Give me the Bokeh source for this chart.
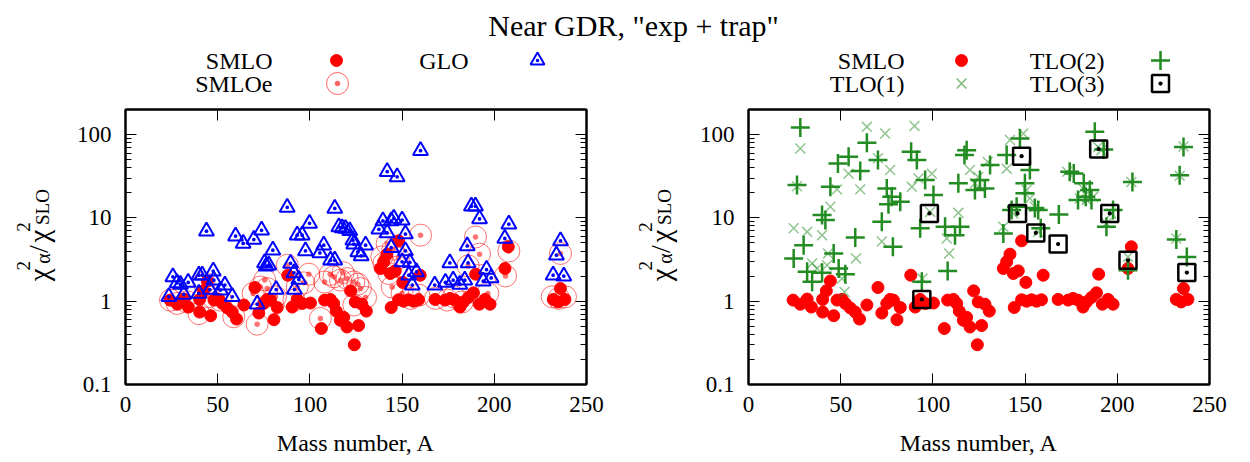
import math
from bokeh.plotting import figure
from bokeh.layouts import column, row
from bokeh.models import Range1d, FixedTicker, LinearAxis, LogAxis, CustomJSTickFormatter
from bokeh.core.properties import value
from bokeh.embed import file_html
from bokeh.resources import INLINE

TITLE = 'Near GDR, "exp + trap"'
X_LABEL = "Mass number, A"
X_TICKS = [0, 50, 100, 150, 200, 250]
Y_TICKS = [0.1, 1, 10, 100]
Y_MINOR = [0.2, 0.3, 0.4, 0.5, 0.6, 0.7, 0.8, 0.9, 2, 3, 4, 5, 6, 7, 8, 9,
           20, 30, 40, 50, 60, 70, 80, 90, 200]

# SMLO (same in both panels)
smlo_A = [24.2, 28.1, 31.8, 34.1, 40.2, 40.2, 42.2, 44.4, 46.2, 48.0, 50.7, 52.5, 55.2, 57.9,
          60.2, 64.2, 70.2, 72.3, 75.0, 76.8, 78.6, 80.5, 82.3, 88.0, 90.4, 93.1, 95.8, 100.3,
          106.2, 108.0, 111.1, 112.9, 114.3, 116.5, 118.3, 120.1, 122.1, 124.1, 124.6, 126.4,
          128.2, 130.6, 138.2, 140.0, 141.8, 143.6, 146.3, 148.1, 150.4, 159.8, 144.1, 148.1,
          150.8, 153.5, 156.2, 158.9, 167.9, 173.3, 176.0, 178.7, 181.4, 183.3, 186.0, 188.7,
          191.9, 195.0, 197.7, 189.9, 207.6, 205.8, 232.0, 234.7, 238.3, 235.9]
smlo_V = [1.03, 0.92, 1.06, 0.85, 1.05, 0.74, 1.33, 1.75, 0.67, 1.03, 1.05, 0.94, 0.83, 0.74,
          0.61, 0.90, 1.46, 0.72, 0.94, 1.05, 1.03, 0.60, 0.84, 2.05, 0.85, 1.05, 0.94, 0.95,
          0.47, 1.03, 1.05, 0.94, 0.76, 0.59, 0.64, 0.49, 1.33, 0.30, 0.98, 0.51,
          0.92, 0.76, 2.47, 2.97, 3.67, 2.15, 2.31, 5.3, 1.68, 2.05, 0.84, 1.04,
          1.0, 1.04, 1.0, 1.04, 1.05, 1.03, 1.08, 1.03, 0.85, 0.98, 1.11, 1.26,
          0.92, 1.05, 0.92, 2.11, 4.5, 2.47, 1.05, 0.98, 1.05, 1.42]

# SMLOe (left panel)
smloe_A = [24.4, 28.0, 33.4, 39.8, 42.5, 45.2, 51.5, 58.7, 71.4, 69.2, 73.2, 76.8, 81.3, 87.7,
           99.4, 93.1, 96.7, 91.3, 105.7, 113.0, 116.6, 120.2, 123.8, 127.4, 130.2, 123.8,
           141.9, 140.1, 142.8, 147.3, 144.6, 150.0, 154.6, 159.1, 160.0, 189.8, 192.0, 185.8,
           196.5, 206.1, 207.9, 235.9, 231.4, 235.0, 238.6, 174.5, 178.0, 182.6, 168.1,
           75.5, 108.0, 111.0, 118.0, 126.0, 139.0, 145.0, 148.0]
smloe_V = [1.03, 0.94, 0.98, 0.71, 1.66, 1.13, 1.03, 0.65, 0.53, 1.24, 1.48, 1.42, 1.13, 2.7,
           2.11, 1.48, 1.66, 1.03, 0.62, 1.96, 1.79, 1.87, 1.7, 1.42, 1.11, 0.9,
           4.9, 2.84, 2.15, 2.58, 1.48, 1.24, 1.08, 1.18, 6.2, 5.9, 3.67, 2.65,
           1.24, 2.01, 4.0, 3.74, 1.13, 1.08, 1.13, 1.03, 1.13, 0.98, 1.08,
           1.8, 1.7, 2.1, 2.2, 1.6, 3.4, 4.2, 3.3]

# GLO (left panel)
glo_A = [23.5, 25.7, 28.0, 29.8, 31.6, 34.0, 39.8, 39.8, 41.6, 43.9, 45.7, 47.6, 47.9, 51.5,
         53.9, 57.9, 59.7, 63.8, 69.6, 71.4, 73.8, 75.4, 76.3, 77.7, 79.9, 81.7, 87.7, 89.5,
         91.3, 94.0, 91.6, 93.1, 95.8, 97.6, 99.8, 105.4, 107.5, 111.2, 113.5, 113.5, 115.7,
         117.5, 119.3, 121.6, 123.3, 123.8, 126.0, 127.8, 130.2, 137.4, 139.6, 141.9, 141.9,
         144.1, 145.5, 150.0, 144.1, 147.3, 151.8, 151.8, 150.0, 154.2, 153.6, 157.8, 155.5,
         160.0, 167.7, 173.5, 177.7, 181.3, 184.0, 175.9, 187.6, 189.8, 192.0, 185.3, 185.8,
         195.8, 194.0, 198.3, 205.7, 207.9, 235.9, 233.7, 231.9, 237.7]
glo_V = [1.13, 1.96, 1.66, 1.59, 1.21, 1.68, 2.05, 1.24, 2.05, 6.93, 1.38, 2.29, 1.79, 1.36,
         1.56, 1.13, 6.05, 4.94, 5.5, 0.92, 7.1, 2.88, 2.63, 2.71, 4.1, 1.38, 13.4, 2.85,
         2.19, 1.82, 1.38, 6.2, 6.2, 4.02, 8.6, 3.8, 4.7, 3.1, 3.1, 13.0, 7.8,
         7.6, 7.45, 7.0, 5.4, 4.85, 3.9, 3.5, 4.7, 7.3, 9.2, 35.8, 6.6,
         9.2, 9.85, 9.4, 4.4, 31.1, 6.4, 4.02, 2.97, 2.92, 2.05, 2.25, 1.56,
         64.0, 1.56, 1.68, 1.79, 1.59, 1.79, 2.88, 13.8, 13.8, 9.7, 4.6, 2.88,
         2.4, 1.74, 1.9, 5.66, 8.4, 5.3, 3.57, 2.05, 2.0]

# TLO(1) (right panel)
tlo1_A = [64.2, 74.1, 90.0, 28.1, 26.3, 48.0, 54.3, 60.6, 76.8, 70.2, 92.2, 99.4, 98.5, 88.6,
          44.4, 24.5, 31.8, 39.9, 72.3, 58.3, 43.1, 34.5, 37.2, 42.6, 50.7, 52.1, 94.3, 107.5,
          108.8, 113.8, 120.1, 122.8, 124.6, 129.7, 141.8, 140.0, 149.0, 150.8, 152.6, 143.6,
          138.2, 155.3, 157.1, 172.8, 179.7, 181.4, 183.3, 186.9, 189.6, 191.4, 196.8, 194.1,
          207.6, 205.8, 235.9, 233.8, 232.0]
tlo1_V = [124, 103, 127, 68, 24, 22, 34, 22, 37.6, 52, 29.8, 34, 11.8, 23.6,
          13.6, 7.5, 6.8, 6.2, 5.2, 3.26, 3.74, 2.84, 2.47, 2.7, 1.87, 1.29, 1.87, 5.66,
          3.74, 11.5, 37.6, 26, 31, 47, 86, 39, 103, 21.6, 17.1, 11.3,
          7.8, 13.6, 6.8, 35.8, 17.1, 22.6, 16.4, 17.9, 71, 65, 11.3, 8.6,
          27, 3.4, 72, 32, 5.66]

# TLO(2) (right panel)
tlo2_A = [28.1, 26.3, 44.4, 48.5, 54.3, 60.6, 64.2, 70.2, 75.0, 75.9, 77.7, 82.3, 88.2, 91.3,
          95.8, 100.3, 93.1, 39.9, 41.7, 29.9, 24.5, 31.8, 34.5, 39.9, 46.2, 48.9, 52.5, 57.9,
          72.3, 78.3, 94.0, 108.0, 106.6, 114.7, 112.0, 113.8, 117.1, 118.3, 122.8, 125.5,
          131.0, 128.2, 147.2, 140.0, 152.6, 149.9, 149.9, 142.7, 145.4, 155.3, 157.1, 158.5,
          138.2, 168.3, 174.2, 176.4, 181.8, 185.1, 178.7, 186.0, 182.9, 187.8, 192.6, 197.7,
          194.1, 208.2, 205.8, 237.7, 235.9, 233.8, 232.0]
tlo2_V = [122, 24.8, 23.6, 45, 54, 36.5, 80, 49.6, 22.6, 14.6, 17.9, 15.6, 62, 49.6,
          28.5, 18.8, 7.5, 10.8, 9.4, 4.7, 3.26, 2.25, 1.71, 2.19, 3.74, 2.47, 2.11, 5.8,
          9.0, 4.5, 1.71, 2.31, 7.8, 7.8, 6.2, 26, 57, 65, 21.6, 28.5,
          43, 22.6, 90, 57, 37.6, 26, 19.7, 12.4, 13.6, 13.1, 12.4, 7.5,
          6.5, 11.0, 35.8, 34.2, 26, 21.6, 16.4, 16.4, 17.9, 108, 66, 12.4,
          7.8, 27, 2.36, 3.4, 71, 32.5, 5.5]

# TLO(3) (right panel)
tlo3_A = [98.1, 94.0, 148.1, 145.9, 155.8, 167.9, 189.9, 195.9, 205.8, 237.7]
tlo3_V = [11.3, 1.05, 55, 11.3, 6.6, 4.85, 67, 11.3, 3.1, 2.21]

SERIF = "Liberation Serif"
RED = "#ff0000"
BLUE = "#0000ff"
GREEN = "#228b22"

FRAME_W = 461
FRAME_H = 275
TOP_H = 100
PANEL_H = 362
LAB_W = 60
Y_MIN, Y_MAX = 0.1, 200.0


def make_panel(border_left, border_right):
    p = figure(frame_width=FRAME_W, frame_height=FRAME_H,
               x_range=Range1d(0, 250), y_range=Range1d(Y_MIN, Y_MAX), y_axis_type="log",
               output_backend="svg", toolbar_location=None,
               min_border_left=border_left, min_border_right=border_right,
               min_border_top=9, min_border_bottom=78, background_fill_color="white",
               border_fill_color="white")
    p.grid.visible = False
    p.outline_line_color = "black"
    p.outline_line_width = 2

    xt = FixedTicker(ticks=X_TICKS, minor_ticks=[])
    yt = FixedTicker(ticks=Y_TICKS, minor_ticks=Y_MINOR)
    yfmt = CustomJSTickFormatter(code="return tick >= 1 ? tick.toFixed(0) : tick.toFixed(1);")
    blank = CustomJSTickFormatter(code="return '';")

    xa = p.below[0]
    xa.ticker = xt
    xa.axis_label = X_LABEL
    ya = p.left[0]
    ya.ticker = yt
    ya.formatter = yfmt

    top = LinearAxis(ticker=xt, formatter=blank)
    right = LogAxis(ticker=yt, formatter=blank)
    p.add_layout(top, "above")
    p.add_layout(right, "right")

    for ax in (xa, ya, top, right):
        ax.axis_line_color = "black"
        ax.axis_line_width = 2
        ax.major_tick_in = 11
        ax.major_tick_out = 0
        ax.minor_tick_in = 6
        ax.minor_tick_out = 0
        ax.major_tick_line_color = "black"
        ax.major_tick_line_width = 1
        ax.minor_tick_line_color = "black"
        ax.minor_tick_line_width = 1
        ax.major_label_text_font = SERIF
        ax.major_label_text_font_size = "23px"
        ax.major_label_text_color = "black"
    for ax in (top, right):
        ax.major_label_text_font_size = "1px"
        ax.major_label_standoff = 0
    xa.major_label_standoff = 12
    ya.major_label_standoff = 14
    xa.axis_label_text_font = SERIF
    xa.axis_label_text_font_size = "24px"
    xa.axis_label_text_font_style = "normal"
    xa.axis_label_text_color = "black"
    xa.axis_label_standoff = 15
    return p


def make_ylabel(x_shift):
    # strip holding the rotated y-axis title; coordinates are strip pixels
    f = figure(width=LAB_W, height=PANEL_H, x_range=Range1d(0, LAB_W),
               y_range=Range1d(PANEL_H, 0), output_backend="svg", toolbar_location=None,
               x_axis_location=None, y_axis_location=None, min_border=0)
    f.grid.visible = False
    f.outline_line_color = None
    pieces = [  # text, baseline x, reading start y, font size
        ("\u03c7", 38, 226, "29px"),
        ("2", 23, 212, "19px"),
        ("\u03b1", 42, 203, "20px"),
        ("/", 38, 189, "28px"),
        ("\u03c7", 38, 175, "29px"),
        ("2", 23, 161, "19px"),
        ("SLO", 42, 152, "19px"),
    ]
    for txt, bx, sy, fs in pieces:
        f.text(x=[bx + x_shift], y=[sy], text=[txt], angle=math.pi / 2,
               text_align="left", text_baseline="alphabetic", text_font=value(SERIF),
               text_font_size=fs, text_color="black")
    return f


# ---------- left panel ----------
left = make_panel(125 - LAB_W, 34)
left.scatter(smlo_A, smlo_V, marker="circle", size=12, fill_color=RED, line_color=RED)
left.scatter(smloe_A, smloe_V, marker="circle_dot", size=22, fill_color=None,
             line_color=RED, line_alpha=0.55, line_width=1)
left.scatter(glo_A, glo_V, marker="triangle_dot", size=15, fill_color=None,
             line_color=BLUE, line_width=2)
ylab_left = make_ylabel(0)

# ---------- right panel ----------
right = make_panel(748 - 620 - LAB_W, 40)
right.scatter(smlo_A, smlo_V, marker="circle", size=12, fill_color=RED, line_color=RED)
right.scatter(tlo1_A, tlo1_V, marker="x", size=14, line_color=GREEN, line_alpha=0.5,
              line_width=1.5)
right.scatter(tlo2_A, tlo2_V, marker="cross", size=19, line_color=GREEN, line_width=2.5)
right.scatter(tlo3_A, tlo3_V, marker="square_dot", size=17, fill_color=None,
              line_color="black", line_width=2.5)
ylab_right = make_ylabel(2)

# ---------- title + legends strip ----------
top = figure(width=1250, height=TOP_H, x_range=Range1d(0, 1250), y_range=Range1d(TOP_H, 0),
             output_backend="svg", toolbar_location=None, x_axis_location=None,
             y_axis_location=None, min_border=0)
top.grid.visible = False
top.outline_line_color = None

top.text(x=[633], y=[25], text=[TITLE], text_font=value(SERIF), text_font_size="30px",
         text_align="center", text_baseline="alphabetic", text_color="black")

leg_txt = dict(text_font=value(SERIF), text_font_size="24px", text_align="right",
               text_baseline="middle", text_color="black")
top.text(x=[272, 468, 272], y=[60, 60, 83], text=["SMLO", "GLO", "SMLOe"], **leg_txt)
top.scatter([336], [60], marker="circle", size=12, fill_color=RED, line_color=RED)
top.scatter([537], [60], marker="triangle_dot", size=14, fill_color=None, line_color=BLUE,
            line_width=2)
top.scatter([337], [83], marker="circle_dot", size=22, fill_color=None, line_color=RED,
            line_alpha=0.6, line_width=1)

top.text(x=[904, 1104, 904, 1104], y=[60, 60, 83, 83],
         text=["SMLO", "TLO(2)", "TLO(1)", "TLO(3)"], **leg_txt)
top.scatter([961], [60], marker="circle", size=12, fill_color=RED, line_color=RED)
top.scatter([1160], [60], marker="cross", size=19, line_color=GREEN, line_width=2.5)
top.scatter([961], [83], marker="x", size=14, line_color=GREEN, line_alpha=0.6, line_width=1.5)
top.scatter([1160], [83], marker="square_dot", size=17, fill_color=None, line_color="black",
            line_width=2.5)

layout = column(top, row(ylab_left, left, ylab_right, right))
open("out.html", "w").write(file_html(layout, INLINE))
